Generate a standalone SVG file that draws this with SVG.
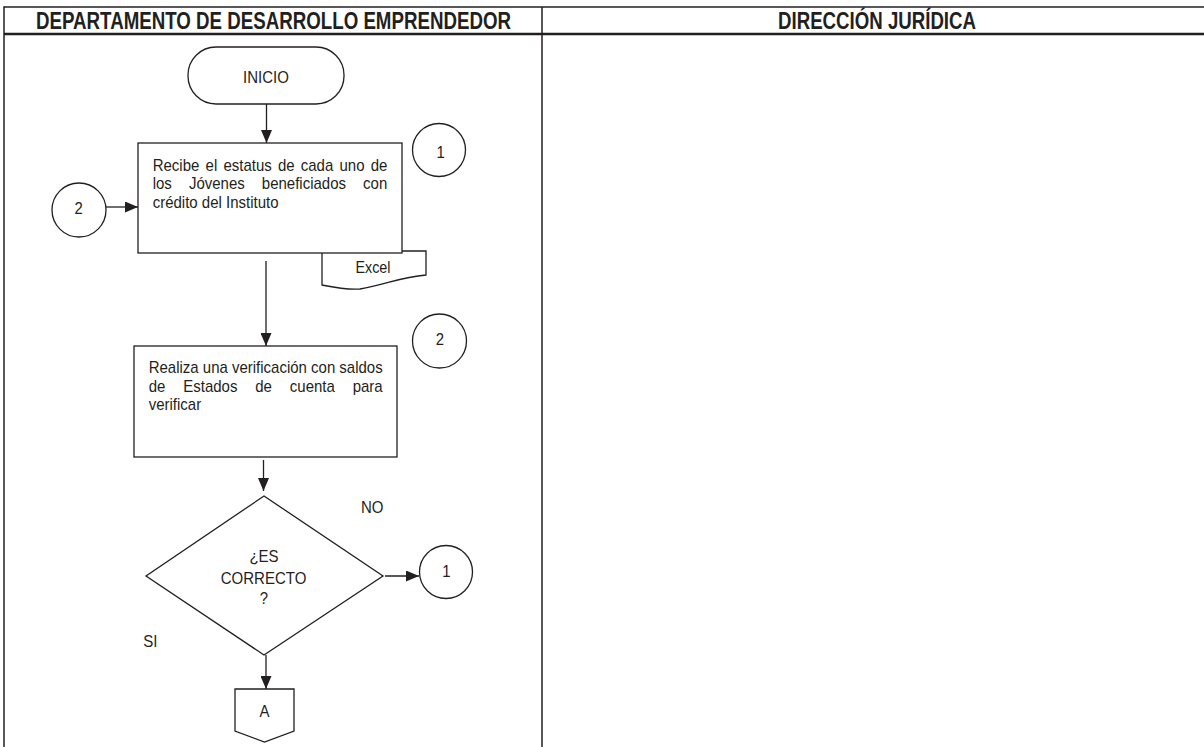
<svg xmlns="http://www.w3.org/2000/svg" width="1204" height="747" viewBox="0 0 1204 747">
<style>
.frame{stroke:#231f20;fill:none}
.shape{stroke:#231f20;stroke-width:1.3;fill:#fff}
.conn{stroke:#231f20;stroke-width:1.3;fill:none}
.hdr{font-family:"Liberation Sans",Arial,sans-serif;font-weight:bold;font-size:23px;fill:#231f20}
.t{font-family:"Liberation Sans",Arial,sans-serif;font-size:17px;fill:#231f20}
</style>
<defs>
<marker id="arr" markerUnits="userSpaceOnUse" markerWidth="13" markerHeight="11" refX="13" refY="5.5" orient="auto">
<path d="M0,0 L13,5.5 L0,11 Z" fill="#231f20"/>
</marker>
</defs>
<rect width="1204" height="747" fill="#fff"/>
<g id="table">
<line class="frame" x1="4" y1="7" x2="1204" y2="7" stroke-width="1.5"/>
<line class="frame" x1="4" y1="34" x2="1204" y2="34" stroke-width="2.4"/>
<line class="frame" x1="4" y1="6.3" x2="4" y2="747" stroke-width="1.5"/>
<line class="frame" x1="542" y1="7" x2="542" y2="747" stroke-width="1.5"/>
<text class="hdr" x="36" y="29" textLength="475" lengthAdjust="spacingAndGlyphs">DEPARTAMENTO DE DESARROLLO EMPRENDEDOR</text>
<text class="hdr" x="778" y="29" textLength="198" lengthAdjust="spacingAndGlyphs">DIRECCIÓN JURÍDICA</text>
</g>
<g id="connectors">
<line class="conn" x1="266.5" y1="104" x2="266.5" y2="143" marker-end="url(#arr)"/>
<line class="conn" x1="106" y1="207" x2="138" y2="207" marker-end="url(#arr)"/>
<line class="conn" x1="266" y1="261" x2="266" y2="346" marker-end="url(#arr)"/>
<line class="conn" x1="263.5" y1="460" x2="263.5" y2="491" marker-end="url(#arr)"/>
<line class="conn" x1="385" y1="576" x2="419" y2="576" marker-end="url(#arr)"/>
<line class="conn" x1="266" y1="655" x2="266" y2="689" marker-end="url(#arr)"/>
</g>
<g id="inicio">
<rect class="shape" x="188" y="47" width="156" height="57" rx="28" ry="28"/>
<text class="t" x="243.1" y="83" textLength="45.8" lengthAdjust="spacingAndGlyphs">INICIO</text>
</g>
<g id="excel">
<path class="shape" d="M322,251 L426,251 L426,275 C400,277 385,285 360,289 C345,290 332,287 322,285 Z"/>
<text class="t" x="355.5" y="273" textLength="35" lengthAdjust="spacingAndGlyphs">Excel</text>
</g>
<g id="box1">
<rect class="shape" x="138" y="143" width="264" height="110"/>
<text class="t" x="152.7" y="170.7" textLength="46.68" lengthAdjust="spacingAndGlyphs">Recibe</text>
<text class="t" x="205.55" y="170.7" textLength="11.67" lengthAdjust="spacingAndGlyphs">el</text>
<text class="t" x="223.39" y="170.7" textLength="48.36" lengthAdjust="spacingAndGlyphs">estatus</text>
<text class="t" x="277.92" y="170.7" textLength="16.68" lengthAdjust="spacingAndGlyphs">de</text>
<text class="t" x="300.77" y="170.7" textLength="32.52" lengthAdjust="spacingAndGlyphs">cada</text>
<text class="t" x="339.46" y="170.7" textLength="25.02" lengthAdjust="spacingAndGlyphs">uno</text>
<text class="t" x="370.65" y="170.7" textLength="16.68" lengthAdjust="spacingAndGlyphs">de</text>
<text class="t" x="152.7" y="189.3" textLength="19.17" lengthAdjust="spacingAndGlyphs">los</text>
<text class="t" x="188.93" y="189.3" textLength="55.86" lengthAdjust="spacingAndGlyphs">Jóvenes</text>
<text class="t" x="261.85" y="189.3" textLength="84.21" lengthAdjust="spacingAndGlyphs">beneficiados</text>
<text class="t" x="363.12" y="189.3" textLength="24.18" lengthAdjust="spacingAndGlyphs">con</text>
<text class="t" x="152.7" y="208.3" textLength="125.9" lengthAdjust="spacingAndGlyphs">crédito del Instituto</text>
</g>
<g id="conn1a">
<circle class="shape" cx="439" cy="150" r="26.5"/>
<text class="t" x="436.5" y="158" textLength="8.3" lengthAdjust="spacingAndGlyphs">1</text>
</g>
<g id="conn2a">
<circle class="shape" cx="79" cy="210" r="27"/>
<text class="t" x="74.5" y="214" textLength="8.3" lengthAdjust="spacingAndGlyphs">2</text>
</g>
<g id="box2">
<rect class="shape" x="134" y="346" width="263" height="111"/>
<text class="t" x="148.7" y="373.3" textLength="234" lengthAdjust="spacingAndGlyphs">Realiza una verificación con saldos</text>
<text class="t" x="148.7" y="391.7" textLength="16.68" lengthAdjust="spacingAndGlyphs">de</text>
<text class="t" x="183.23" y="391.7" textLength="54.2" lengthAdjust="spacingAndGlyphs">Estados</text>
<text class="t" x="255.28" y="391.7" textLength="16.68" lengthAdjust="spacingAndGlyphs">de</text>
<text class="t" x="289.81" y="391.7" textLength="45.03" lengthAdjust="spacingAndGlyphs">cuenta</text>
<text class="t" x="352.69" y="391.7" textLength="30.02" lengthAdjust="spacingAndGlyphs">para</text>
<text class="t" x="148.7" y="410" textLength="52.5" lengthAdjust="spacingAndGlyphs">verificar</text>
</g>
<g id="conn2b">
<circle class="shape" cx="439.5" cy="341" r="27"/>
<text class="t" x="435.8" y="345" textLength="8.3" lengthAdjust="spacingAndGlyphs">2</text>
</g>
<g id="decision">
<polygon class="shape" points="264,496 383,576 264,655 146,576"/>
<text class="t" x="249.4" y="562" textLength="29.2" lengthAdjust="spacingAndGlyphs">¿ES</text>
<text class="t" x="220.7" y="583.5" textLength="85.8" lengthAdjust="spacingAndGlyphs">CORRECTO</text>
<text class="t" x="259.8" y="604" textLength="8.3" lengthAdjust="spacingAndGlyphs">?</text>
</g>
<g id="label-no">
<text class="t" x="361" y="513" textLength="22.5" lengthAdjust="spacingAndGlyphs">NO</text>
</g>
<g id="label-si">
<text class="t" x="143.3" y="647" textLength="14.2" lengthAdjust="spacingAndGlyphs">SI</text>
</g>
<g id="conn1b">
<circle class="shape" cx="446" cy="572" r="26.5"/>
<text class="t" x="442.2" y="577" textLength="8.3" lengthAdjust="spacingAndGlyphs">1</text>
</g>
<g id="offpageA">
<path class="shape" d="M235,689 L294,689 L294,731 L264.5,742 L235,731 Z"/>
<text class="t" x="259.5" y="717" textLength="10" lengthAdjust="spacingAndGlyphs">A</text>
</g>
</svg>
